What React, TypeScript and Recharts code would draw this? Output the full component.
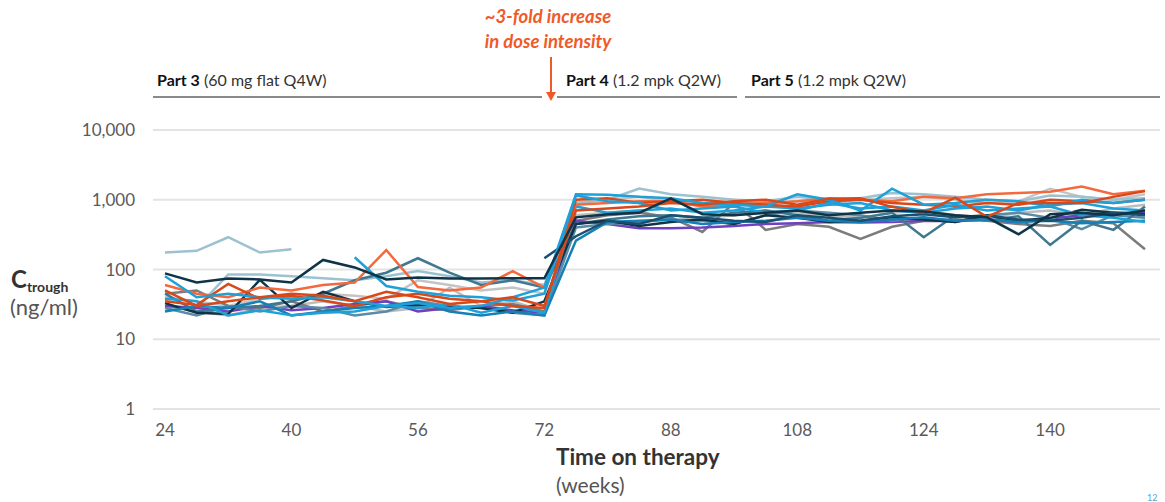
import { LineChart, Line, XAxis, YAxis, CartesianGrid } from "recharts";

// weeks on therapy (category axis, one point per visit)
const weeks = [24, 28, 32, 36, 40, 44, 48, 52, 56, 60, 64, 68, 72, 76, 80, 84, 88, 93, 98, 103, 108, 112, 116, 120, 124, 128, 132, 136, 140, 144, 148, 152];
const yTicks = [1, 10, 100, 1000, 10000];

// Ctrough per patient (ng/ml); first 13 visits = Part 3, rest = Part 4/5
const s01 = [175, 185, 290, 175, 195, null, null, null, null, null, null, null, null, null, null, null, null, null, null, null, null, null, null, null, null, null, null, null, null, null, null, null];
const s02 = [88, 65, 74, 72, 65, 137, 107, 72, 77, 74, 74, 75, 75, 560, 620, 650, 1050, 620, 600, 650, 700, 600, 650, 700, 680, 600, 560, 320, 620, 650, 600, 700];
const s03 = [33, 24, 23, 71, 28, 48, 35, 29, 31, 29, 28, 24, 35, 450, 500, 420, 480, 520, 450, 600, 550, 480, 500, 560, 520, 480, 600, 500, 550, 720, 650, 620];
const s04 = [80, 40, 45, 40, 38, 40, 35, 30, 33, 28, 30, 40, 55, 1200, 1180, 1100, 1050, 900, 850, 800, 1200, 1000, 700, 1440, 850, 900, 1000, 950, 800, 1000, 900, 1000];
const s05 = [null, null, null, null, null, null, 150, 58, 48, 42, 40, 36, 45, 1150, 950, 900, 700, 750, 800, 650, 700, 900, 750, 800, 700, 850, 700, 750, 800, 600, 550, 480];
const s06 = [45, 25, 28, 30, 35, 45, 70, 90, 145, 90, 60, 70, 55, 450, 520, 580, 600, 550, 650, 700, 600, 500, 550, 650, 290, 600, 500, 580, 225, 500, 370, 800];
const s07 = [60, 45, 40, 55, 50, 60, 65, 190, 56, 50, 55, 95, 55, 850, 900, 950, 950, 800, 850, 900, 950, 1050, 1000, 950, 1100, 1050, 1200, 1250, 1300, 1550, 1200, 1350];
const s08 = [50, 30, 35, 40, 45, 42, 35, 48, 40, 32, 35, 40, 30, 700, 750, 800, 900, 850, 950, 1000, 850, 1030, 1050, 790, 650, 1070, 570, 900, 900, 900, 1100, 1330];
const s09 = [35, 31, 62, 38, 42, 36, 30, 40, 45, 38, 35, 30, 28, 1000, 1050, 900, 950, 1000, 900, 850, 800, 950, 1000, 900, 850, 800, 900, 850, 1000, 950, 900, 1000];
const s10 = [40, 35, 30, 38, 40, 45, 42, 38, 70, 60, 50, 55, 45, 900, 1000, 1100, 950, 900, 1000, 850, 950, 900, 1000, 1050, 1100, 1000, 900, 950, 1440, 1100, 1000, 1200];
const s11 = [30, 25, 22, 28, 30, 35, 30, 25, 28, 55, 30, 35, 25, 600, 650, 700, 500, 550, 600, 700, 650, 600, 550, 650, 700, 600, 550, 650, 700, 600, 750, 850];
const s12 = [45, 50, 30, 28, 35, 25, 30, 35, 28, 26, 30, 32, 25, 500, 600, 650, 560, 345, 900, 370, 450, 410, 275, 410, 500, 520, 500, 450, 420, 500, 460, 195];
const s13 = [30, 28, 85, 85, 80, 75, 70, 80, 95, 80, 65, 70, 60, 900, 1000, 1450, 1200, 1100, 1000, 950, 1100, 1000, 1050, 1250, 1200, 1100, 1000, 950, 1150, 1100, 1000, 1050];
const s14 = [30, 28, 25, 30, 26, 28, 32, 35, 25, 28, 30, 26, 24, 500, 450, 390, 390, 400, 420, 450, 460, 480, 470, 480, 500, 490, 520, 480, 540, 600, 650, 650];
const s15 = [25, 30, 28, 35, 22, 25, 28, 30, 35, 25, 22, 25, 22, 260, 480, 500, 520, 450, 480, 500, 550, 500, 480, 520, 560, 500, 520, 480, 500, 460, 480, 500];
const s16 = [null, null, null, null, null, null, null, null, null, null, null, null, 145, 300, 500, 450, 600, 550, 500, 480, 600, 550, 500, 580, 620, 560, 600, 520, 500, 550, 650, 600];
const s17 = [28, 22, 30, 25, 30, 28, 22, 25, 35, 30, 28, 24, 22, 400, 450, 480, 520, 500, 450, 600, 700, 650, 600, 500, 550, 480, 600, 650, 550, 380, 600, 550];
const s18 = [38, 35, 22, 26, 22, 24, 25, 30, 28, 32, 24, 30, 24, 800, 650, 700, 750, 650, 700, 800, 750, 850, 900, 700, 650, 750, 800, 700, 850, 900, 750, 700];

const seriesList = [
  { key: "s01", color: "#9cc2d0", values: s01 },
  { key: "s10", color: "#c4c4c4", values: s10 },
  { key: "s11", color: "#bdbdbd", values: s11 },
  { key: "s13", color: "#9cc2d0", values: s13 },
  { key: "s12", color: "#7c7c7c", values: s12 },
  { key: "s14", color: "#7040c0", values: s14 },
  { key: "s17", color: "#5a8ca8", values: s17 },
  { key: "s06", color: "#3f7890", values: s06 },
  { key: "s03", color: "#0f3447", values: s03 },
  { key: "s15", color: "#1580b5", values: s15 },
  { key: "s18", color: "#1ea0d8", values: s18 },
  { key: "s07", color: "#f26a3d", values: s07 },
  { key: "s09", color: "#d9481a", values: s09 },
  { key: "s05", color: "#1ea0d8", values: s05 },
  { key: "s16", color: "#1a4f6e", values: s16 },
  { key: "s04", color: "#1ea0d8", values: s04 },
  { key: "s08", color: "#d9481a", values: s08 },
  { key: "s02", color: "#0f3447", values: s02 },
];

const data = weeks.map((w, i) => {
  const row: Record<string, any> = { week: String(w) };
  seriesList.forEach((s) => {
    row[s.key] = s.values[i];
  });
  return row;
});

const FONT = "Lato, 'Open Sans', sans-serif";
const ORANGE = "#f05a28";

const abs = (left: number, top: number, extra: any = {}) => ({
  position: "absolute" as const,
  left,
  top,
  lineHeight: 1,
  whiteSpace: "nowrap" as const,
  ...extra,
});

export default function App() {
  return (
    <div style={{ position: "relative", width: 1165, height: 502, fontFamily: FONT, background: "#fff" }}>
      <style>{"body{margin:0}"}</style>
      <LineChart width={1165} height={502} data={data} margin={{ top: 130, right: 5, left: 0, bottom: 63 }}>
        <CartesianGrid vertical={false} stroke="#e3e3e3" strokeWidth={2} />
        <XAxis
          dataKey="week"
          interval={3}
          height={30}
          tickLine={false}
          axisLine={false}
          tickMargin={9}
          padding={{ left: 12, right: 15 }}
          tick={{ fill: "#5a5a5a", fontSize: 17, fontFamily: FONT }}
        />
        <YAxis
          type="number"
          scale="log"
          domain={[1, 10000]}
          ticks={yTicks}
          allowDataOverflow
          width={153}
          tickLine={false}
          axisLine={false}
          tickMargin={12}
          tickFormatter={(v: number) => v.toLocaleString("en-US")}
          tick={{ fill: "#5a5a5a", fontSize: 17, fontFamily: FONT }}
        />
        {seriesList.map((s) => (
          <Line
            key={s.key}
            dataKey={s.key}
            stroke={s.color}
            strokeWidth={2.5}
            dot={false}
            type="linear"
            connectNulls={false}
            isAnimationActive={false}
          />
        ))}
      </LineChart>

      {/* annotation */}
      <div style={abs(548, 4, { transform: "translateX(-50%)", color: ORANGE, fontSize: 18.5, fontWeight: 700, fontStyle: "italic", textAlign: "center", lineHeight: "25px" })}>
        ~3-fold increase
        <br />
        in dose intensity
      </div>
      <svg style={{ position: "absolute", left: 0, top: 0 }} width={1165} height={120}>
        <line x1={551} y1={57} x2={551} y2={94} stroke={ORANGE} strokeWidth={2} />
        <path d="M546,92 L556,92 L551,101 Z" fill={ORANGE} />
        <line x1={153} y1={97} x2={542} y2={97} stroke="#8a8a8a" strokeWidth={2} />
        <line x1={557} y1={97} x2={737} y2={97} stroke="#8a8a8a" strokeWidth={2} />
        <line x1={745} y1={97} x2={1160} y2={97} stroke="#8a8a8a" strokeWidth={2} />
      </svg>

      {/* part headers */}
      <div style={abs(157, 72, { fontSize: 16, color: "#333" })}>
        <b style={{ color: "#111" }}>Part 3</b> (60 mg flat Q4W)
      </div>
      <div style={abs(566, 72, { fontSize: 16, color: "#333" })}>
        <b style={{ color: "#111" }}>Part 4</b> (1.2 mpk Q2W)
      </div>
      <div style={abs(751, 72, { fontSize: 16, color: "#333" })}>
        <b style={{ color: "#111" }}>Part 5</b> (1.2 mpk Q2W)
      </div>

      {/* y axis title */}
      <div style={abs(11, 267, { fontSize: 24, fontWeight: 700, color: "#333" })}>
        C<span style={{ fontSize: 14, position: "relative", top: 4 }}>trough</span>
      </div>
      <div style={abs(10, 296, { fontSize: 22, color: "#555" })}>(ng/ml)</div>

      {/* x axis title */}
      <div style={abs(556, 446, { fontSize: 22.5, fontWeight: 700, color: "#333" })}>Time on therapy</div>
      <div style={abs(556, 474, { fontSize: 21, color: "#555" })}>(weeks)</div>

      <div style={abs(1147, 493, { fontSize: 9, color: "#4aa8d8" })}>12</div>
    </div>
  );
}
